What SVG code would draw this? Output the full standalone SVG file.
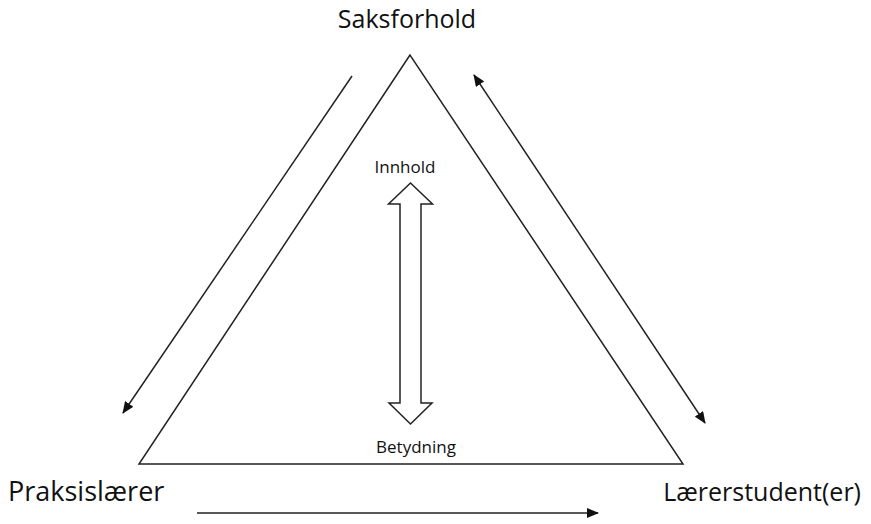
<svg xmlns="http://www.w3.org/2000/svg" width="871" height="524" viewBox="0 0 871 524">
<style>
.ln{stroke:#222;stroke-width:1.5;fill:none}
.lbl{font-family:"Open Sans","Liberation Sans",sans-serif;fill:#111}
.big{font-size:25px}
.small{font-size:17px}
</style>
<defs>
<marker id="ah" viewBox="0 0 12 10" refX="11" refY="5" markerWidth="12" markerHeight="10" markerUnits="userSpaceOnUse" orient="auto-start-reverse">
<path d="M0,0 L12,5 L0,10 Z" fill="#111"/>
</marker>
</defs>
<rect width="871" height="524" fill="#fff"/>
<g id="triangle">
<polygon class="ln" points="410,55 139,464 683,464"/>
</g>
<g id="saksforhold"><text class="lbl big" x="407" y="28" text-anchor="middle">Saksforhold</text></g>
<g id="praksislaerer"><text class="lbl big" x="8" y="501" style="font-size:27px">Praksislærer</text></g>
<g id="laererstudent"><text class="lbl big" x="861" y="501" text-anchor="end">Lærerstudent(er)</text></g>
<g id="innhold"><text class="lbl small" x="405" y="173" text-anchor="middle">Innhold</text></g>
<g id="betydning"><text class="lbl small" x="416" y="453" text-anchor="middle">Betydning</text></g>
<g id="connectors">
<line class="ln" x1="352" y1="76" x2="123" y2="413" marker-end="url(#ah)"/>
<line class="ln" x1="474" y1="75" x2="705" y2="423" marker-start="url(#ah)" marker-end="url(#ah)"/>
<line class="ln" x1="197" y1="513" x2="598" y2="513" marker-end="url(#ah)"/>
<polygon class="ln" stroke-width="1.2" points="410.5,183 432.5,204 421,204 421,403 432,403 410.5,424 389,403 400,403 400,204 388.5,204"/>
</g>
</svg>
